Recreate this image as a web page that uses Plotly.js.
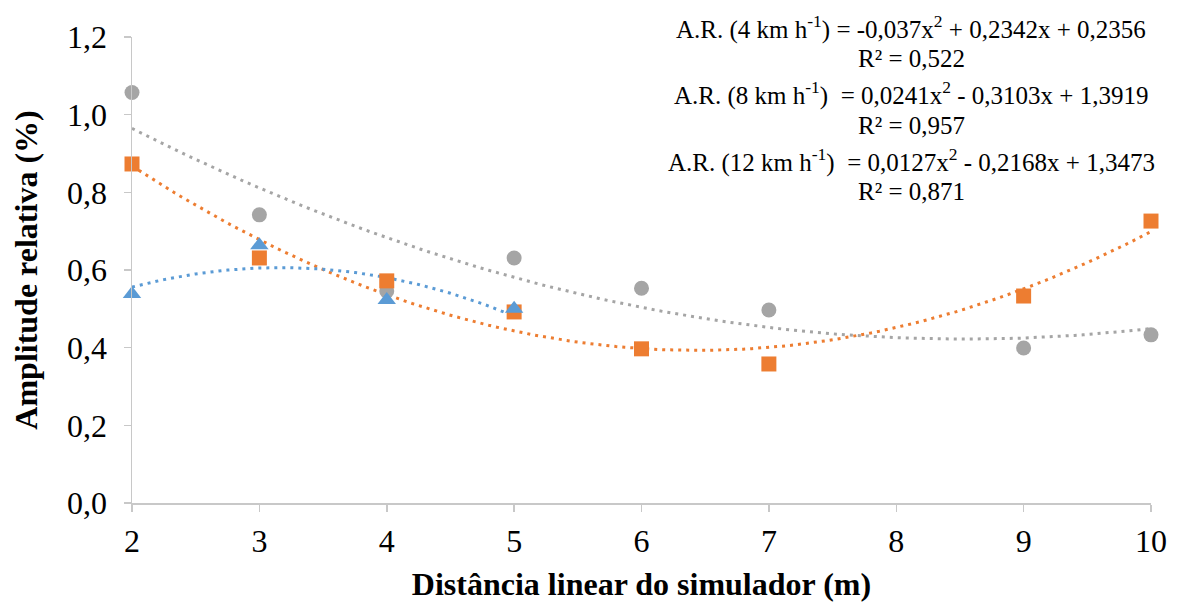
<!DOCTYPE html>
<html>
<head>
<meta charset="utf-8">
<script src="https://cdn.plot.ly/plotly-3.0.1.min.js"></script>
<style>html,body{margin:0;padding:0;background:#fff;}#chart{width:1189px;height:602px;}</style>
</head>
<body>
<div id="chart"></div>
<script>
// Data
const x4 = [2, 3, 4, 5];
const y4 = [0.538, 0.664, 0.523, 0.500];
const x8 = [2, 3, 4, 5, 6, 7, 9, 10];
const y8 = [0.873, 0.631, 0.572, 0.492, 0.397, 0.358, 0.533, 0.726];
const x12 = [2, 3, 4, 5, 6, 7, 9, 10];
const y12 = [1.057, 0.742, 0.546, 0.631, 0.553, 0.497, 0.399, 0.433];

// Trendline coefficients (a, b, c) as printed on the chart: y = a x^2 + b x + c
const coef4 = [-0.037, 0.2342, 0.2356];
const coef8 = [0.0241, -0.3103, 1.3919];
const coef12 = [0.0127, -0.2168, 1.3473];

const xTicks = [2, 3, 4, 5, 6, 7, 8, 9, 10];
const eqLabels = [
  'A.R. (4 km h<sup>-1</sup>) = -0,037x<sup>2</sup> + 0,2342x + 0,2356',
  'R² = 0,522',
  'A.R. (8 km h<sup>-1</sup>)  = 0,0241x<sup>2</sup> - 0,3103x + 1,3919',
  'R² = 0,957',
  'A.R. (12 km h<sup>-1</sup>)  = 0,0127x<sup>2</sup> - 0,2168x + 1,3473',
  'R² = 0,871'
];

const BLUE = '#5B9BD5', ORANGE = '#ED7D31', GRAY = '#A5A5A5';
const SERIF = 'Liberation Serif, Times New Roman, serif';

function trend(coef, x0, x1) {
  const xs = [], ys = [];
  const n = 120;
  for (let i = 0; i <= n; i++) {
    const x = x0 + (x1 - x0) * i / n;
    xs.push(x);
    ys.push(coef[0] * x * x + coef[1] * x + coef[2]);
  }
  return {xs, ys};
}

const t4 = trend(coef4, 2, 5);
const t8 = trend(coef8, 2, 10);
const t12 = trend(coef12, 2, 10);

const dotLine = (c) => ({color: c, width: 3, dash: '3px,5px'});

const traces = [
  {x: t12.xs, y: t12.ys, mode: 'lines', line: dotLine(GRAY), hoverinfo: 'skip', showlegend: false, cliponaxis: false},
  {x: t8.xs, y: t8.ys, mode: 'lines', line: dotLine(ORANGE), hoverinfo: 'skip', showlegend: false, cliponaxis: false},
  {x: t4.xs, y: t4.ys, mode: 'lines', line: dotLine(BLUE), hoverinfo: 'skip', showlegend: false, cliponaxis: false},
  {x: x12, y: y12, mode: 'markers', marker: {symbol: 'circle', size: 15, color: GRAY}, showlegend: false, cliponaxis: false},
  {x: x8, y: y8, mode: 'markers', marker: {symbol: 'square', size: 15, color: ORANGE}, showlegend: false, cliponaxis: false},
  {x: x4, y: y4, mode: 'markers', marker: {symbol: 'triangle-up', size: 16, color: BLUE}, showlegend: false, cliponaxis: false}
];

const L = 132, R = 1151, T = 37, B = 503;
const px = (p) => (p - L) / (R - L);
const py = (p) => (B - p) / (B - T);
const lineY = [27, 58, 93, 126, 160, 192];
const annotations = eqLabels.map((t, i) => ({
  text: t, xref: 'paper', yref: 'paper', x: px(911), y: py(lineY[i]),
  xanchor: 'center', yanchor: 'middle', showarrow: false,
  font: {family: SERIF, size: 25, color: '#000'}
}));

const layout = {
  width: 1189, height: 602,
  margin: {l: L, r: 1189 - R, t: T, b: 602 - B},
  paper_bgcolor: '#fff', plot_bgcolor: '#fff',
  separators: ', ',
  font: {family: SERIF, color: '#000'},
  xaxis: {
    range: [2, 10], tickvals: xTicks, ticktext: xTicks.map(String),
    showgrid: false, zeroline: false, showline: true, linecolor: '#c8c8c8', linewidth: 1.5,
    ticks: 'outside', ticklen: 7, tickcolor: '#c8c8c8', tickwidth: 1.5,
    ticklabelstandoff: 2,
    tickfont: {family: SERIF, size: 32, color: '#000'},
    title: {text: 'Distância linear do simulador (m)', font: {family: SERIF, size: 32, color: '#000', weight: 'bold'}, standoff: 17}
  },
  yaxis: {
    range: [0, 1.2], dtick: 0.2, tick0: 0, tickformat: '.1f',
    showgrid: false, zeroline: false, showline: true, linecolor: '#c8c8c8', linewidth: 1.5,
    ticks: 'outside', ticklen: 7, tickcolor: '#c8c8c8', tickwidth: 1.5,
    ticklabelstandoff: 10,
    tickfont: {family: SERIF, size: 32, color: '#000'},
    title: {text: 'Amplitude relativa (%)', font: {family: SERIF, size: 32, color: '#000', weight: 'bold'}, standoff: 20}
  },
  annotations: annotations
};

Plotly.newPlot('chart', traces, layout, {displayModeBar: false, staticPlot: true});
</script>
</body>
</html>
